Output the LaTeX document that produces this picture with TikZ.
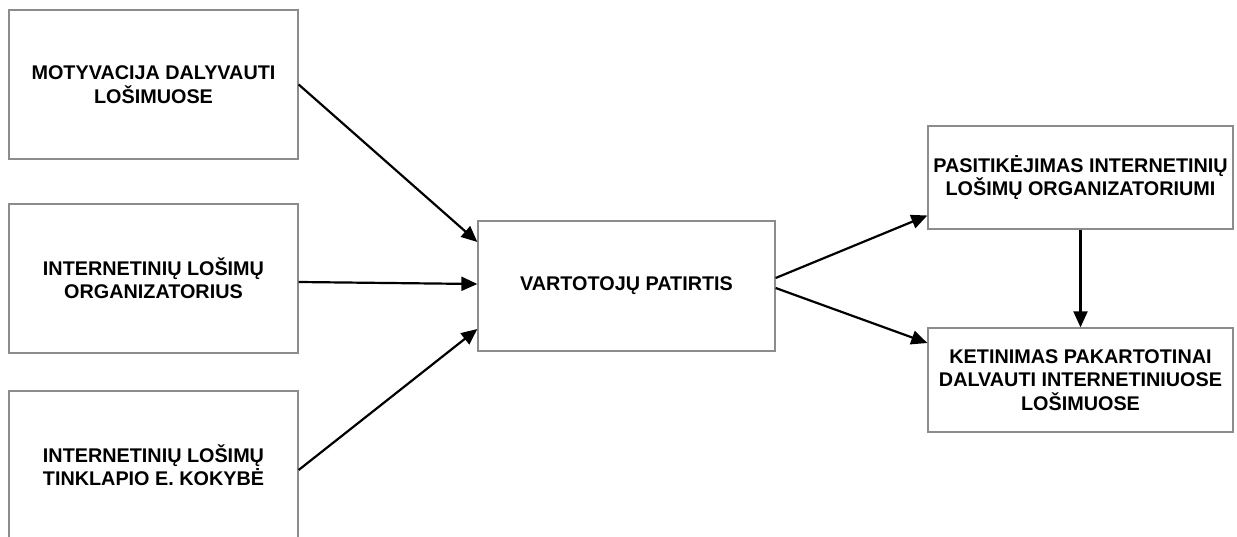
\documentclass[tikz,border=0pt]{standalone}
\usepackage{fontspec}
\setmainfont{Liberation Sans}
\usetikzlibrary{arrows.meta}
\begin{document}
\begin{tikzpicture}[x=1bp,y=-1bp,
  box/.style={draw=black!45,line width=1.3bp,fill=white,rectangle,
    align=center,inner sep=0pt,
    font=\fontsize{19.8bp}{23.4bp}\selectfont\bfseries},
  link/.style={line width=2.2bp,-{Triangle[length=16bp,width=14bp]}}]
\useasboundingbox (0,0) rectangle (1237,537);
\begin{scope}
\clip (0,0) rectangle (1237,537);
\node[box,minimum width=289bp,minimum height=149bp] (mot) at (153.5,84.5)
  {MOTYVACIJA DALYVAUTI\\LOŠIMUOSE};
\node[box,minimum width=289bp,minimum height=149bp] (org) at (153.5,278.5)
  {INTERNETINIŲ LOŠIMŲ\\ORGANIZATORIUS};
\node[box,minimum width=289bp,minimum height=149bp] (web) at (153.5,465.5)
  {INTERNETINIŲ LOŠIMŲ\\TINKLAPIO E. KOKYBĖ};
\end{scope}
\node[box,minimum width=297bp,minimum height=130bp] (exp) at (626.5,286)
  {VARTOTOJŲ PATIRTIS};
\node[box,minimum width=305bp,minimum height=103bp] (trust) at (1080.5,177.5)
  {PASITIKĖJIMAS INTERNETINIŲ\\LOŠIMŲ ORGANIZATORIUMI};
\node[box,minimum width=305bp,minimum height=104bp] (int) at (1080.5,380)
  {KETINIMAS PAKARTOTINAI\\DALVAUTI INTERNETINIUOSE\\LOŠIMUOSE};
% connectors into the central box
\draw[link] (mot.east) -- ([yshift=44bp]exp.west);
\draw[link] ([yshift=-3.5bp]org.east) -- ([yshift=2bp]exp.west);
\draw[link] ([yshift=-4.5bp]web.east) -- ([yshift=-43bp]exp.west);
% connectors out of the central box
\draw[link] ([yshift=8bp]exp.east) -- ([yshift=-38bp]trust.west);
\draw[link] ([yshift=-2bp]exp.east) -- ([yshift=37bp]int.west);
\draw[link] (trust.south) -- (int.north);
\end{tikzpicture}
\end{document}
